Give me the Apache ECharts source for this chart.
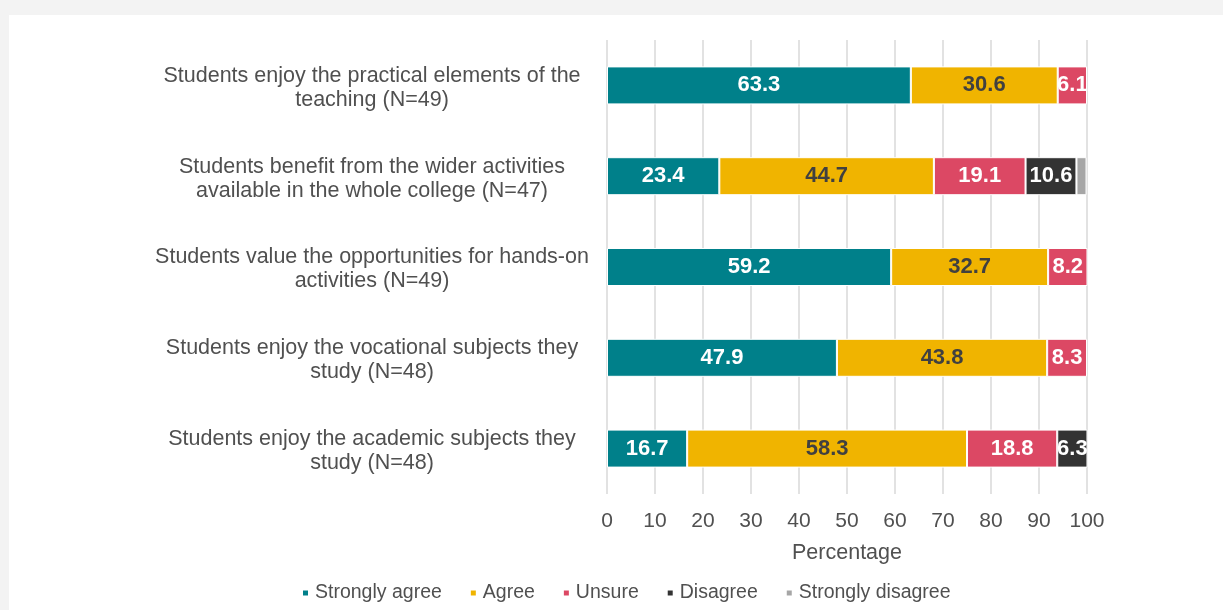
<!DOCTYPE html>
<html>
<head>
<meta charset="utf-8">
<script src="https://cdn.jsdelivr.net/npm/echarts@6/dist/echarts.min.js"></script>
<style>
  html, body { margin: 0; padding: 0; background: #f3f3f3; width: 1223px; height: 610px; overflow: hidden; }
  #chart { position: absolute; left: 9px; top: 15px; width: 1214px; height: 595px; background: #ffffff; }
</style>
</head>
<body>
<div id="chart"></div>
<script>
// Survey statements, listed top to bottom
const statements = [
  'Students enjoy the practical elements of the\nteaching (N=49)',
  'Students benefit from the wider activities\navailable in the whole college (N=47)',
  'Students value the opportunities for hands-on\nactivities (N=49)',
  'Students enjoy the vocational subjects they\nstudy (N=48)',
  'Students enjoy the academic subjects they\nstudy (N=48)'
];

// Percentage of responses per statement (same order as above)
const stronglyAgree    = [63.3, 23.4, 59.2, 47.9, 16.7];
const agree            = [30.6, 44.7, 32.7, 43.8, 58.3];
const unsure           = [6.1, 19.1, 8.2, 8.3, 18.8];
const disagree         = [0, 10.6, 0, 0, 6.3];
const stronglyDisagree = [0, 2.1, 0, 0, 0];

const xTicks = [0, 10, 20, 30, 40, 50, 60, 70, 80, 90, 100];

const font = '"Liberation Sans", Arial, Helvetica, sans-serif';

function seriesFor(name, values, color, labelColor) {
  return {
    name: name,
    type: 'bar',
    stack: 'total',
    barWidth: 38,
    data: values.map(v => (v > 0 ? v : null)),
    itemStyle: { color: color, borderColor: '#ffffff', borderWidth: 1 },
    label: {
      show: true,
      position: 'inside',
      color: labelColor,
      fontFamily: font,
      fontWeight: 'bold',
      fontSize: 22,
      formatter: p => (p.value >= 3 ? p.value.toFixed(1) : '')
    },
    emphasis: { disabled: true }
  };
}

const chart = echarts.init(document.getElementById('chart'), null, { renderer: 'canvas' });
chart.setOption({
  animation: false,
  backgroundColor: '#ffffff',
  textStyle: { fontFamily: font },
  grid: { left: 598, right: 136, top: 25, bottom: 116, containLabel: false },
  legend: {
    bottom: 2,
    left: 287,
    icon: 'rect',
    itemWidth: 7,
    itemHeight: 7,
    itemGap: 27,
    textStyle: { fontFamily: font, fontSize: 19.5, color: '#505050', padding: [0, 0, 0, 1] },
    data: ['Strongly agree', 'Agree', 'Unsure', 'Disagree', 'Strongly disagree']
  },
  xAxis: {
    type: 'value',
    min: 0,
    max: 100,
    interval: 10,
    name: 'Percentage',
    nameLocation: 'middle',
    nameGap: 48,
    nameTextStyle: { fontFamily: font, fontSize: 21.5, color: '#505050' },
    axisLine: { show: false },
    axisTick: { show: false },
    axisLabel: {
      margin: 17,
      fontFamily: font,
      fontSize: 21,
      color: '#505050',
      formatter: v => (xTicks.includes(v) ? String(v) : '')
    },
    splitLine: { show: true, lineStyle: { color: '#d9d9d9', width: 1.5 } }
  },
  yAxis: {
    type: 'category',
    inverse: true,
    data: statements,
    axisLine: { show: false },
    axisTick: { show: false },
    axisLabel: {
      margin: 235,
      align: 'center',
      fontFamily: font,
      fontSize: 21.5,
      lineHeight: 24,
      color: '#505050',
      // nudge the two-line statements slightly below the bar centre
      formatter: v => v.split('\n').map(line => '{t|' + line + '}').join('\n'),
      rich: {
        t: { fontFamily: font, fontSize: 21.5, lineHeight: 24, color: '#505050', padding: [5, 0, 0, 0] }
      }
    }
  },
  series: [
    seriesFor('Strongly agree', stronglyAgree, '#00808a', '#ffffff'),
    seriesFor('Agree', agree, '#f0b400', '#404040'),
    seriesFor('Unsure', unsure, '#dc4864', '#ffffff'),
    seriesFor('Disagree', disagree, '#333333', '#ffffff'),
    seriesFor('Strongly disagree', stronglyDisagree, '#a6a6a6', '#ffffff')
  ]
});
</script>
</body>
</html>
